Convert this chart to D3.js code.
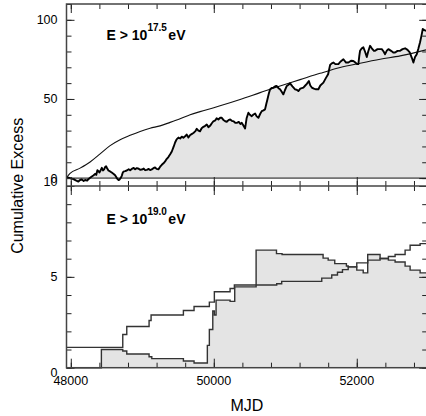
<!DOCTYPE html>
<html>
<head>
<meta charset="utf-8">
<script src="https://cdn.jsdelivr.net/npm/d3@7"></script>
<style>
  body { margin: 0; background: #fff; }
  text { font-family: "Liberation Sans", Arial, Helvetica, sans-serif; }
</style>
</head>
<body>
<div id="chart"></div>
<script>
// ---- data ----
// top panel, E > 10^17.5 eV : observed cumulative excess (noisy) and expectation (smooth)
const topObsMjd = [47944, 47990, 48036, 48070, 48106, 48130, 48154, 48180, 48200, 48230, 48246, 48270, 48294, 48320, 48340, 48356, 48372, 48390, 48400, 48418, 48434, 48450, 48466, 48480, 48494, 48510, 48526, 48550, 48573, 48600, 48620, 48640, 48652, 48668, 48680, 48700, 48713, 48725, 48736, 48760, 48783, 48810, 48830, 48853, 48880, 48900, 48923, 48950, 48970, 48993, 49020, 49040, 49063, 49090, 49110, 49133, 49160, 49179, 49200, 49225, 49250, 49273, 49300, 49319, 49340, 49365, 49390, 49413, 49440, 49459, 49480, 49505, 49530, 49552, 49575, 49599, 49620, 49645, 49670, 49690, 49715, 49740, 49762, 49785, 49808, 49830, 49855, 49880, 49902, 49925, 49948, 49970, 49994, 50020, 50040, 50064, 50090, 50112, 50140, 50160, 50182, 50210, 50230, 50252, 50280, 50300, 50322, 50350, 50372, 50392, 50410, 50438, 50460, 50484, 50505, 50531, 50555, 50578, 50600, 50624, 50648, 50671, 50695, 50717, 50735, 50750, 50770, 50787, 50810, 50834, 50860, 50881, 50905, 50927, 50950, 50973, 50995, 51021, 51045, 51067, 51100, 51137, 51160, 51183, 51210, 51253, 51280, 51301, 51330, 51350, 51371, 51400, 51430, 51463, 51490, 51533, 51565, 51599, 51615, 51627, 51650, 51673, 51700, 51743, 51770, 51813, 51850, 51883, 51920, 51952, 51980, 52005, 52022, 52035, 52046, 52070, 52092, 52115, 52140, 52160, 52186, 52210, 52240, 52256, 52290, 52330, 52350, 52375, 52396, 52420, 52442, 52480, 52510, 52536, 52570, 52606, 52640, 52676, 52710, 52741, 52770, 52792, 52815, 52839, 52860, 52885, 52905, 52923, 52945, 52969];
const topObsVal = [0.6, 0.0, -0.7, -1.5, -2.2, -1.2, -0.9, -1.8, -1.2, -1.6, -0.7, 0.2, 1.0, 1.8, 2.7, 2.0, 5.0, 4.2, 3.5, 5.0, 6.5, 4.8, 5.5, 7.0, 7.5, 6.0, 4.8, 4.2, 3.5, 2.6, 1.8, 0.3, -0.5, -1.2, -1.1, 0.2, 1.4, 3.2, 4.1, 4.4, 4.8, 5.6, 5.0, 5.8, 6.4, 5.6, 6.3, 5.9, 5.2, 5.4, 6.0, 5.0, 5.2, 5.8, 5.1, 5.5, 6.4, 6.7, 5.8, 5.5, 7.2, 8.4, 9.5, 10.5, 12.0, 13.3, 15.0, 16.8, 20.0, 22.5, 24.5, 25.6, 25.0, 26.2, 25.5, 26.4, 27.5, 25.6, 27.2, 27.8, 28.5, 29.5, 31.1, 30.0, 29.6, 31.5, 32.4, 33.0, 33.8, 32.2, 33.0, 34.5, 35.9, 36.4, 37.8, 37.0, 38.1, 38.1, 36.5, 35.9, 35.6, 36.8, 37.0, 36.2, 35.8, 35.0, 34.9, 35.5, 34.2, 34.9, 33.5, 31.4, 38.0, 41.3, 40.0, 39.1, 40.2, 40.8, 39.0, 38.1, 40.5, 42.3, 42.8, 43.4, 47.0, 49.7, 53.5, 56.0, 57.0, 57.2, 58.0, 58.2, 56.8, 56.1, 54.5, 52.9, 55.5, 58.2, 59.0, 59.9, 58.0, 56.1, 55.8, 55.0, 56.5, 57.2, 58.5, 59.5, 61.3, 58.5, 57.2, 56.5, 56.1, 56.1, 58.5, 60.3, 63.0, 65.6, 69.0, 71.5, 72.5, 73.0, 72.0, 72.0, 73.5, 75.1, 73.0, 73.0, 74.1, 74.0, 73.0, 72.0, 72.0, 77.0, 80.5, 82.0, 82.6, 80.0, 76.5, 80.0, 83.6, 82.0, 80.4, 80.4, 81.5, 81.5, 81.5, 80.0, 78.3, 80.5, 81.5, 80.4, 79.4, 79.4, 80.4, 80.4, 81.5, 82.0, 81.0, 79.4, 76.0, 73.0, 76.5, 78.3, 81.5, 85.8, 90.0, 94.2, 93.5, 93.1];
const topExpMjd = [47944, 47990, 48130, 48270, 48410, 48550, 48690, 48830, 48970, 49109, 49249, 49389, 49529, 49669, 49808, 50000, 50088, 50368, 50648, 50927, 51207, 51487, 51767, 52047, 52327, 52607, 52970];
const topExpVal = [0.5, 3.0, 6.3, 10.2, 15.3, 20.5, 24.2, 27.0, 29.5, 31.5, 33.0, 35.2, 37.5, 40.0, 42.0, 44.5, 45.7, 49.7, 54.0, 58.2, 62.2, 66.2, 69.9, 72.6, 75.1, 77.2, 81.0];

// bottom panel, E > 10^19.0 eV : step functions (value holds from each MJD to the next)
const lowObsMjd = [47940, 48428, 48727, 48783, 49095, 49133, 49575, 49724, 49910, 49938, 49986, 50008, 50032, 50228, 50293, 50592, 50877, 50955, 51529, 51600, 51692, 51855, 51880, 52000, 52090, 52153, 52326, 52442, 52536, 52676, 52746, 52886];
const lowObsVal = [0, 1.0, 0.92, 0.75, 0.6, 0.5, 0.37, 0.26, 1.23, 2.1, 3.12, 2.9, 3.72, 3.65, 4.45, 6.47, 6.28, 6.23, 6.03, 5.92, 5.73, 5.6, 5.55, 5.37, 5.22, 6.23, 6.01, 5.92, 5.82, 5.59, 5.37, 5.22];
const lowExpMjd = [47940, 48727, 48783, 49095, 49123, 49575, 49724, 49938, 50008, 50228, 50288, 50880, 50950, 51510, 51650, 51730, 51800, 51880, 52000, 52153, 52326, 52442, 52536, 52676, 52746, 52886];
const lowExpVal = [1.12, 1.83, 2.27, 2.6, 2.9, 3.15, 3.37, 3.61, 4.18, 4.36, 4.55, 4.62, 4.75, 4.93, 5.1, 5.25, 5.4, 5.55, 5.77, 5.92, 6.01, 6.12, 6.23, 6.47, 6.74, 6.83];

const xLabelTicks = [48000, 50000, 52000];
const topYLabels = [0, 50, 100];
const lowYLabels = [0, 5, 10];
const panelExp = ["17.5", "19.0"];

// ---- layout ----
const W = 426, H = 416;
const xMin = 47940, xMax = 52985;
const x = d3.scaleLinear().domain([xMin, xMax]).range([66.5, 427.2]);
const yTop = d3.scaleLinear().domain([-5, 110]).range([186, 4]);
const yLow = d3.scaleLinear().domain([0, 10]).range([367.7, 186]);

const svg = d3.select('#chart').append('svg')
  .attr('width', W)
  .attr('height', H)
  .style('display', 'block');

const zip = (a, b) => a.map((m, i) => ({ mjd: m, v: b[i] }));
const topObs = zip(topObsMjd, topObsVal);
const topExp = zip(topExpMjd, topExpVal);
const lowObs = zip(lowObsMjd, lowObsVal);
const lowExp = zip(lowExpMjd, lowExpVal);
// carry the last step out to the right edge
lowObs.push({ mjd: xMax, v: lowObs[lowObs.length - 1].v });
lowExp.push({ mjd: xMax, v: lowExp[lowExp.length - 1].v });

const fillGrey = '#e4e4e4';

// ---- top panel ----
svg.append('path')
  .datum(topObs)
  .attr('fill', fillGrey)
  .attr('d', d3.area()
    .x(d => x(d.mjd))
    .y0(yTop(0))
    .y1(d => yTop(d.v)));

svg.append('line')
  .attr('x1', x(xMin)).attr('x2', x(xMax))
  .attr('y1', yTop(0)).attr('y2', yTop(0))
  .attr('stroke', '#111').attr('stroke-width', 1);

svg.append('path')
  .datum(topExp)
  .attr('fill', 'none')
  .attr('stroke', '#111')
  .attr('stroke-width', 1.1)
  .attr('d', d3.line()
    .curve(d3.curveMonotoneX)
    .x(d => x(d.mjd))
    .y(d => yTop(d.v)));

svg.append('path')
  .datum(topObs)
  .attr('fill', 'none')
  .attr('stroke', '#000')
  .attr('stroke-width', 1.9)
  .attr('stroke-linejoin', 'round')
  .attr('d', d3.line()
    .x(d => x(d.mjd))
    .y(d => yTop(d.v)));

// ---- bottom panel ----
svg.append('path')
  .datum(lowObs)
  .attr('fill', fillGrey)
  .attr('d', d3.area()
    .curve(d3.curveStepAfter)
    .x(d => x(d.mjd))
    .y0(yLow(0))
    .y1(d => yLow(d.v)));

const stepLine = d3.line()
  .curve(d3.curveStepAfter)
  .x(d => x(d.mjd))
  .y(d => yLow(d.v));

[lowObs, lowExp].forEach(s => {
  svg.append('path')
    .datum(s)
    .attr('fill', 'none')
    .attr('stroke', '#333')
    .attr('stroke-width', 1.4)
    .attr('d', stepLine);
});

// ---- ticks (all pointing inward) ----
const minorX = d3.range(48000, xMax, 400);
function xTicks(y, dir) {
  const mk = (vals, len) => (dir === 'down' ? d3.axisTop(x) : d3.axisBottom(x))
    .tickValues(vals).tickSize(-len).tickFormat('');
  svg.append('g').attr('transform', `translate(0,${y})`).call(mk(minorX, 5));
  svg.append('g').attr('transform', `translate(0,${y})`).call(mk(xLabelTicks, 9));
}
xTicks(yTop.range()[1], 'down');
xTicks(yTop.range()[0], 'up');
xTicks(yLow.range()[1], 'down');
xTicks(yLow.range()[0], 'up');

function yTicks(scale, minor, major) {
  [[x.range()[0], d3.axisLeft], [x.range()[1], d3.axisRight]].forEach(([px, ax]) => {
    svg.append('g').attr('transform', `translate(${px},0)`)
      .call(ax(scale).tickValues(minor).tickSize(-5).tickFormat(''));
    svg.append('g').attr('transform', `translate(${px},0)`)
      .call(ax(scale).tickValues(major).tickSize(-8).tickFormat(''));
  });
}
yTicks(yTop, d3.range(0, 111, 10), topYLabels);
yTicks(yLow, d3.range(0, 11, 1), lowYLabels);

svg.selectAll('.domain').remove();
svg.selectAll('.tick line').attr('stroke', '#222').attr('stroke-width', 1);

// ---- frame ----
const frame = svg.append('g').attr('fill', 'none').attr('stroke', '#444').attr('stroke-width', 1.5);
frame.append('rect')
  .attr('x', x.range()[0]).attr('y', yTop.range()[1])
  .attr('width', x.range()[1] - x.range()[0])
  .attr('height', yLow.range()[0] - yTop.range()[1]);
frame.append('line')
  .attr('x1', x.range()[0]).attr('x2', x.range()[1])
  .attr('y1', yLow.range()[1]).attr('y2', yLow.range()[1]);

// ---- tick labels ----
const labelFont = 12.5;
svg.append('g').selectAll('text')
  .data(xLabelTicks)
  .join('text')
  .attr('x', d => x(d))
  .attr('y', yLow(0) + 17)
  .attr('text-anchor', 'middle')
  .attr('font-size', labelFont)
  .text(d => d);

function yLabels(scale, vals, shift) {
  svg.append('g').selectAll('text')
    .data(vals)
    .join('text')
    .attr('x', x.range()[0] - 9)
    .attr('y', d => scale(d) + (shift[d] || 0))
    .attr('dy', '0.36em')
    .attr('text-anchor', 'end')
    .attr('font-size', labelFont)
    .text(d => d);
}
yLabels(yTop, topYLabels, {});
yLabels(yLow, lowYLabels, { 0: 5, 10: -5 });

// ---- axis titles ----
svg.append('text')
  .attr('x', (x.range()[0] + x.range()[1]) / 2)
  .attr('y', 411)
  .attr('text-anchor', 'middle')
  .attr('font-size', 16)
  .text('MJD');

svg.append('text')
  .attr('transform', `translate(22.5,${(yTop.range()[1] + yLow.range()[0]) / 2}) rotate(-90)`)
  .attr('text-anchor', 'middle')
  .attr('font-size', 16)
  .text('Cumulative Excess');

// ---- panel labels ----
[[panelExp[0], 40], [panelExp[1], 224]].forEach(([ex, base]) => {
  const t = svg.append('text')
    .attr('x', 106.5)
    .attr('y', base)
    .attr('font-size', 14)
    .attr('font-weight', 'bold');
  t.append('tspan').text('E > 10');
  t.append('tspan').attr('dy', -9.5).attr('font-size', 10).text(ex);
  t.append('tspan').attr('dy', 9.5).attr('dx', 1.5).text('eV');
});
</script>
</body>
</html>
